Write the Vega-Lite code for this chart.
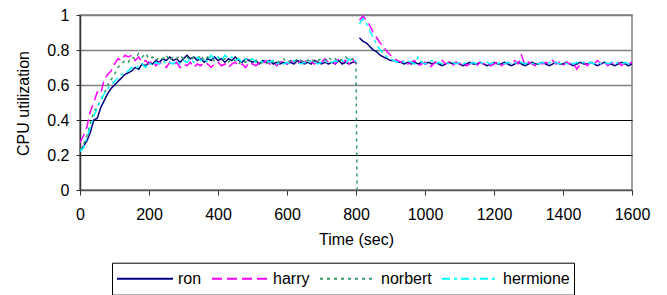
{
  "$schema": "https://vega.github.io/schema/vega-lite/v6.json",
  "width": 552,
  "height": 175,
  "autosize": "none",
  "padding": {"left": 80, "top": 15, "right": 35, "bottom": 105},
  "background": "white",
  "config": {
    "font": "Liberation Sans",
    "view": {"stroke": "#808080", "strokeWidth": 1.5},
    "legend": {
      "orient": "none",
      "legendX": 32,
      "legendY": 247.7,
      "direction": "horizontal",
      "strokeColor": "black",
      "padding": 4,
      "symbolType": "stroke",
      "symbolSize": 3136,
      "symbolStrokeWidth": 2,
      "labelFontSize": 16,
      "labelColor": "black",
      "labelOffset": 4,
      "columnPadding": 9,
      "clipHeight": 24
    }
  },
  "data": {
    "values": [
      {"t":0,"ron":0.22,"harry":0.27,"norbert":0.23,"hermione":0.22},
      {"t":10,"ron":0.25,"harry":0.31,"norbert":0.26,"hermione":0.24},
      {"t":20,"ron":0.28,"harry":0.36,"norbert":0.31,"hermione":0.30},
      {"t":30,"ron":0.33,"harry":0.45,"norbert":0.38,"hermione":0.36},
      {"t":40,"ron":0.40,"harry":0.50,"norbert":0.45,"hermione":0.42},
      {"t":50,"ron":0.41,"harry":0.56,"norbert":0.47,"hermione":0.47},
      {"t":60,"ron":0.47,"harry":0.55,"norbert":0.52,"hermione":0.51},
      {"t":70,"ron":0.51,"harry":0.63,"norbert":0.55,"hermione":0.55},
      {"t":80,"ron":0.55,"harry":0.66,"norbert":0.60,"hermione":0.58},
      {"t":90,"ron":0.58,"harry":0.68,"norbert":0.63,"hermione":0.60},
      {"t":100,"ron":0.60,"harry":0.72,"norbert":0.66,"hermione":0.62},
      {"t":110,"ron":0.62,"harry":0.75,"norbert":0.70,"hermione":0.64},
      {"t":120,"ron":0.64,"harry":0.74,"norbert":0.72,"hermione":0.66},
      {"t":130,"ron":0.66,"harry":0.77,"norbert":0.74,"hermione":0.67},
      {"t":140,"ron":0.67,"harry":0.76,"norbert":0.73,"hermione":0.68},
      {"t":150,"ron":0.68,"harry":0.77,"norbert":0.76,"hermione":0.70},
      {"t":160,"ron":0.70,"harry":0.74,"norbert":0.75,"hermione":0.69},
      {"t":170,"ron":0.69,"harry":0.76,"norbert":0.78,"hermione":0.71},
      {"t":180,"ron":0.72,"harry":0.73,"norbert":0.76,"hermione":0.72},
      {"t":190,"ron":0.71,"harry":0.74,"norbert":0.78,"hermione":0.70},
      {"t":200,"ron":0.73,"harry":0.72,"norbert":0.75,"hermione":0.73},
      {"t":210,"ron":0.72,"harry":0.74,"norbert":0.76,"hermione":0.71},
      {"t":220,"ron":0.74,"harry":0.71,"norbert":0.74,"hermione":0.73},
      {"t":230,"ron":0.73,"harry":0.73,"norbert":0.76,"hermione":0.72},
      {"t":240,"ron":0.75,"harry":0.72,"norbert":0.75,"hermione":0.74},
      {"t":250,"ron":0.74,"harry":0.70,"norbert":0.77,"hermione":0.72},
      {"t":260,"ron":0.76,"harry":0.73,"norbert":0.74,"hermione":0.73},
      {"t":270,"ron":0.74,"harry":0.71,"norbert":0.76,"hermione":0.72},
      {"t":280,"ron":0.75,"harry":0.73,"norbert":0.75,"hermione":0.74},
      {"t":290,"ron":0.73,"harry":0.70,"norbert":0.77,"hermione":0.72},
      {"t":300,"ron":0.75,"harry":0.72,"norbert":0.75,"hermione":0.74},
      {"t":310,"ron":0.77,"harry":0.71,"norbert":0.76,"hermione":0.73},
      {"t":320,"ron":0.75,"harry":0.73,"norbert":0.74,"hermione":0.75},
      {"t":330,"ron":0.76,"harry":0.70,"norbert":0.76,"hermione":0.73},
      {"t":340,"ron":0.74,"harry":0.72,"norbert":0.75,"hermione":0.76},
      {"t":350,"ron":0.75,"harry":0.71,"norbert":0.77,"hermione":0.74},
      {"t":360,"ron":0.73,"harry":0.73,"norbert":0.74,"hermione":0.75},
      {"t":370,"ron":0.75,"harry":0.72,"norbert":0.76,"hermione":0.73},
      {"t":380,"ron":0.74,"harry":0.70,"norbert":0.75,"hermione":0.77},
      {"t":390,"ron":0.76,"harry":0.72,"norbert":0.74,"hermione":0.75},
      {"t":400,"ron":0.74,"harry":0.73,"norbert":0.76,"hermione":0.76},
      {"t":410,"ron":0.75,"harry":0.71,"norbert":0.74,"hermione":0.74},
      {"t":420,"ron":0.73,"harry":0.72,"norbert":0.75,"hermione":0.77},
      {"t":430,"ron":0.75,"harry":0.70,"norbert":0.73,"hermione":0.75},
      {"t":440,"ron":0.74,"harry":0.72,"norbert":0.75,"hermione":0.76},
      {"t":450,"ron":0.76,"harry":0.73,"norbert":0.74,"hermione":0.74},
      {"t":460,"ron":0.74,"harry":0.71,"norbert":0.72,"hermione":0.75},
      {"t":470,"ron":0.73,"harry":0.72,"norbert":0.74,"hermione":0.73},
      {"t":480,"ron":0.75,"harry":0.70,"norbert":0.73,"hermione":0.75},
      {"t":490,"ron":0.74,"harry":0.73,"norbert":0.75,"hermione":0.74},
      {"t":500,"ron":0.73,"harry":0.72,"norbert":0.73,"hermione":0.75},
      {"t":510,"ron":0.74,"harry":0.71,"norbert":0.74,"hermione":0.73},
      {"t":520,"ron":0.72,"harry":0.73,"norbert":0.72,"hermione":0.74},
      {"t":530,"ron":0.74,"harry":0.72,"norbert":0.73,"hermione":0.73},
      {"t":540,"ron":0.73,"harry":0.74,"norbert":0.72,"hermione":0.74},
      {"t":550,"ron":0.74,"harry":0.72,"norbert":0.74,"hermione":0.73},
      {"t":560,"ron":0.72,"harry":0.73,"norbert":0.73,"hermione":0.74},
      {"t":570,"ron":0.73,"harry":0.71,"norbert":0.74,"hermione":0.72},
      {"t":580,"ron":0.72,"harry":0.73,"norbert":0.73,"hermione":0.73},
      {"t":590,"ron":0.73,"harry":0.74,"norbert":0.75,"hermione":0.72},
      {"t":600,"ron":0.72,"harry":0.72,"norbert":0.73,"hermione":0.73},
      {"t":610,"ron":0.73,"harry":0.74,"norbert":0.74,"hermione":0.72},
      {"t":620,"ron":0.72,"harry":0.73,"norbert":0.73,"hermione":0.74},
      {"t":630,"ron":0.74,"harry":0.72,"norbert":0.75,"hermione":0.73},
      {"t":640,"ron":0.73,"harry":0.74,"norbert":0.74,"hermione":0.72},
      {"t":650,"ron":0.72,"harry":0.73,"norbert":0.73,"hermione":0.73},
      {"t":660,"ron":0.73,"harry":0.75,"norbert":0.74,"hermione":0.72},
      {"t":670,"ron":0.72,"harry":0.73,"norbert":0.75,"hermione":0.74},
      {"t":680,"ron":0.74,"harry":0.72,"norbert":0.73,"hermione":0.73},
      {"t":690,"ron":0.73,"harry":0.74,"norbert":0.74,"hermione":0.72},
      {"t":700,"ron":0.72,"harry":0.73,"norbert":0.75,"hermione":0.73},
      {"t":710,"ron":0.73,"harry":0.75,"norbert":0.74,"hermione":0.74},
      {"t":720,"ron":0.72,"harry":0.73,"norbert":0.76,"hermione":0.72},
      {"t":730,"ron":0.73,"harry":0.74,"norbert":0.74,"hermione":0.73},
      {"t":740,"ron":0.72,"harry":0.72,"norbert":0.75,"hermione":0.74},
      {"t":750,"ron":0.74,"harry":0.75,"norbert":0.73,"hermione":0.73},
      {"t":760,"ron":0.72,"harry":0.73,"norbert":0.75,"hermione":0.74},
      {"t":770,"ron":0.73,"harry":0.74,"norbert":0.76,"hermione":0.72},
      {"t":780,"ron":0.72,"harry":0.72,"norbert":0.74,"hermione":0.75},
      {"t":790,"ron":0.73,"harry":0.75,"norbert":0.75,"hermione":0.73},
      {"t":800,"ron":0.73,"harry":0.72,"norbert":0.74,"hermione":0.74},
      {"t":803,"norbert":0},
      {"t":810,"ron":0.87,"harry":0.97,"hermione":0.95},
      {"t":820,"ron":0.85,"harry":0.995,"hermione":0.98},
      {"t":830,"ron":0.84,"harry":0.97,"hermione":0.95},
      {"t":840,"ron":0.82,"harry":0.94,"hermione":0.91},
      {"t":850,"ron":0.80,"harry":0.90,"hermione":0.87},
      {"t":860,"ron":0.79,"harry":0.87,"hermione":0.83},
      {"t":870,"ron":0.77,"harry":0.84,"hermione":0.80},
      {"t":880,"ron":0.76,"harry":0.82,"hermione":0.78},
      {"t":890,"ron":0.75,"harry":0.79,"hermione":0.76},
      {"t":900,"ron":0.74,"harry":0.77,"hermione":0.75},
      {"t":910,"ron":0.74,"harry":0.75,"hermione":0.74},
      {"t":920,"ron":0.73,"harry":0.74,"hermione":0.73},
      {"t":930,"ron":0.73,"harry":0.73,"hermione":0.74},
      {"t":940,"ron":0.72,"harry":0.74,"hermione":0.73},
      {"t":950,"ron":0.73,"harry":0.72,"hermione":0.74},
      {"t":960,"ron":0.72,"harry":0.73,"hermione":0.73},
      {"t":970,"ron":0.73,"harry":0.74,"hermione":0.72},
      {"t":980,"ron":0.72,"harry":0.71,"hermione":0.76},
      {"t":990,"ron":0.73,"harry":0.72,"hermione":0.73},
      {"t":1000,"ron":0.72,"harry":0.73,"hermione":0.72},
      {"t":1010,"ron":0.73,"harry":0.70,"hermione":0.73},
      {"t":1020,"ron":0.72,"harry":0.71,"hermione":0.74},
      {"t":1030,"ron":0.73,"harry":0.73,"hermione":0.72},
      {"t":1040,"ron":0.72,"harry":0.72,"hermione":0.73},
      {"t":1050,"ron":0.71,"harry":0.74,"hermione":0.72},
      {"t":1060,"ron":0.72,"harry":0.72,"hermione":0.73},
      {"t":1070,"ron":0.73,"harry":0.73,"hermione":0.72},
      {"t":1080,"ron":0.72,"harry":0.71,"hermione":0.73},
      {"t":1090,"ron":0.73,"harry":0.73,"hermione":0.72},
      {"t":1100,"ron":0.72,"harry":0.72,"hermione":0.73},
      {"t":1110,"ron":0.71,"harry":0.73,"hermione":0.72},
      {"t":1120,"ron":0.72,"harry":0.71,"hermione":0.73},
      {"t":1130,"ron":0.73,"harry":0.72,"hermione":0.72},
      {"t":1140,"ron":0.72,"harry":0.73,"hermione":0.73},
      {"t":1150,"ron":0.72,"harry":0.71,"hermione":0.72},
      {"t":1160,"ron":0.73,"harry":0.73,"hermione":0.73},
      {"t":1170,"ron":0.72,"harry":0.72,"hermione":0.72},
      {"t":1180,"ron":0.71,"harry":0.73,"hermione":0.73},
      {"t":1190,"ron":0.72,"harry":0.71,"hermione":0.72},
      {"t":1200,"ron":0.73,"harry":0.72,"hermione":0.73},
      {"t":1210,"ron":0.72,"harry":0.73,"hermione":0.72},
      {"t":1220,"ron":0.72,"harry":0.71,"hermione":0.73},
      {"t":1230,"ron":0.73,"harry":0.72,"hermione":0.72},
      {"t":1240,"ron":0.72,"harry":0.73,"hermione":0.73},
      {"t":1250,"ron":0.71,"harry":0.72,"hermione":0.72},
      {"t":1260,"ron":0.72,"harry":0.74,"hermione":0.73},
      {"t":1270,"ron":0.73,"harry":0.72,"hermione":0.72},
      {"t":1280,"ron":0.72,"harry":0.77,"hermione":0.73},
      {"t":1290,"ron":0.71,"harry":0.71,"hermione":0.72},
      {"t":1300,"ron":0.72,"harry":0.73,"hermione":0.73},
      {"t":1310,"ron":0.73,"harry":0.72,"hermione":0.72},
      {"t":1320,"ron":0.72,"harry":0.71,"hermione":0.73},
      {"t":1330,"ron":0.72,"harry":0.73,"hermione":0.72},
      {"t":1340,"ron":0.73,"harry":0.72,"hermione":0.73},
      {"t":1350,"ron":0.72,"harry":0.73,"hermione":0.72},
      {"t":1360,"ron":0.71,"harry":0.72,"hermione":0.73},
      {"t":1370,"ron":0.72,"harry":0.74,"hermione":0.72},
      {"t":1380,"ron":0.73,"harry":0.72,"hermione":0.73},
      {"t":1390,"ron":0.72,"harry":0.73,"hermione":0.72},
      {"t":1400,"ron":0.72,"harry":0.71,"hermione":0.73},
      {"t":1410,"ron":0.73,"harry":0.73,"hermione":0.72},
      {"t":1420,"ron":0.72,"harry":0.72,"hermione":0.73},
      {"t":1430,"ron":0.71,"harry":0.73,"hermione":0.72},
      {"t":1440,"ron":0.72,"harry":0.69,"hermione":0.73},
      {"t":1450,"ron":0.73,"harry":0.72,"hermione":0.72},
      {"t":1460,"ron":0.72,"harry":0.73,"hermione":0.73},
      {"t":1470,"ron":0.72,"harry":0.71,"hermione":0.72},
      {"t":1480,"ron":0.73,"harry":0.73,"hermione":0.73},
      {"t":1490,"ron":0.72,"harry":0.72,"hermione":0.72},
      {"t":1500,"ron":0.71,"harry":0.74,"hermione":0.73},
      {"t":1510,"ron":0.72,"harry":0.72,"hermione":0.72},
      {"t":1520,"ron":0.73,"harry":0.73,"hermione":0.73},
      {"t":1530,"ron":0.72,"harry":0.71,"hermione":0.72},
      {"t":1540,"ron":0.72,"harry":0.73,"hermione":0.73},
      {"t":1550,"ron":0.71,"harry":0.72,"hermione":0.72},
      {"t":1560,"ron":0.72,"harry":0.73,"hermione":0.73},
      {"t":1570,"ron":0.73,"harry":0.71,"hermione":0.72},
      {"t":1580,"ron":0.72,"harry":0.73,"hermione":0.73},
      {"t":1590,"ron":0.71,"harry":0.72,"hermione":0.72},
      {"t":1600,"ron":0.72,"harry":0.73,"hermione":0.73}
    ]
  },
  "transform": [
    {"fold": ["ron", "harry", "norbert", "hermione"], "as": ["series", "value"]}
  ],
  "mark": {"type": "line", "strokeWidth": 1.5},
  "encoding": {
    "x": {
      "field": "t",
      "type": "quantitative",
      "scale": {"domain": [0, 1600], "nice": false},
      "axis": {
        "title": "Time (sec)",
        "values": [0, 200, 400, 600, 800, 1000, 1200, 1400, 1600],
        "format": "d",
        "grid": false,
        "domainColor": "#555555",
        "domainWidth": 1.5,
        "tickColor": "#333333",
        "tickSize": 5,
        "labelFontSize": 16,
        "labelColor": "black",
        "labelBaseline": "alphabetic",
        "labelPadding": 24,
        "labelFlush": false,
        "titleFontSize": 16,
        "titleFontWeight": "normal",
        "titleColor": "black",
        "titleBaseline": "alphabetic",
        "titleY": 54,
        "titleX": 276
      }
    },
    "y": {
      "field": "value",
      "type": "quantitative",
      "scale": {"domain": [0, 1], "nice": false},
      "axis": {
        "title": "CPU utilization",
        "values": [0, 0.2, 0.4, 0.6, 0.8, 1],
        "format": "~g",
        "grid": true,
        "gridColor": {"condition": {"test": "datum.value >= 0.5", "value": "#808080"}, "value": "black"},
        "gridOpacity": 1,
        "gridWidth": {"condition": {"test": "datum.value >= 0.5", "value": 1.5}, "value": 1},
        "domainColor": "#333333",
        "domainWidth": 1.5,
        "tickColor": "#333333",
        "tickSize": 4,
        "labelFontSize": 16,
        "labelColor": "black",
        "labelPadding": 7,
        "labelFlush": false,
        "titleFontSize": 16,
        "titleFontWeight": "normal",
        "titleColor": "black",
        "titleAngle": -90,
        "titleBaseline": "alphabetic",
        "titleX": -52,
        "titleY": 88
      }
    },
    "color": {
      "field": "series",
      "type": "nominal",
      "scale": {
        "domain": ["ron", "harry", "norbert", "hermione"],
        "range": ["#000080", "#FF00FF", "#339966", "#00FFFF"]
      },
      "legend": {"title": null}
    },
    "strokeDash": {
      "field": "series",
      "type": "nominal",
      "scale": {
        "domain": ["ron", "harry", "norbert", "hermione"],
        "range": [[1, 0], [10, 5], [3, 4], [8, 4, 3, 4]]
      },
      "legend": {"title": null}
    }
  }
}
